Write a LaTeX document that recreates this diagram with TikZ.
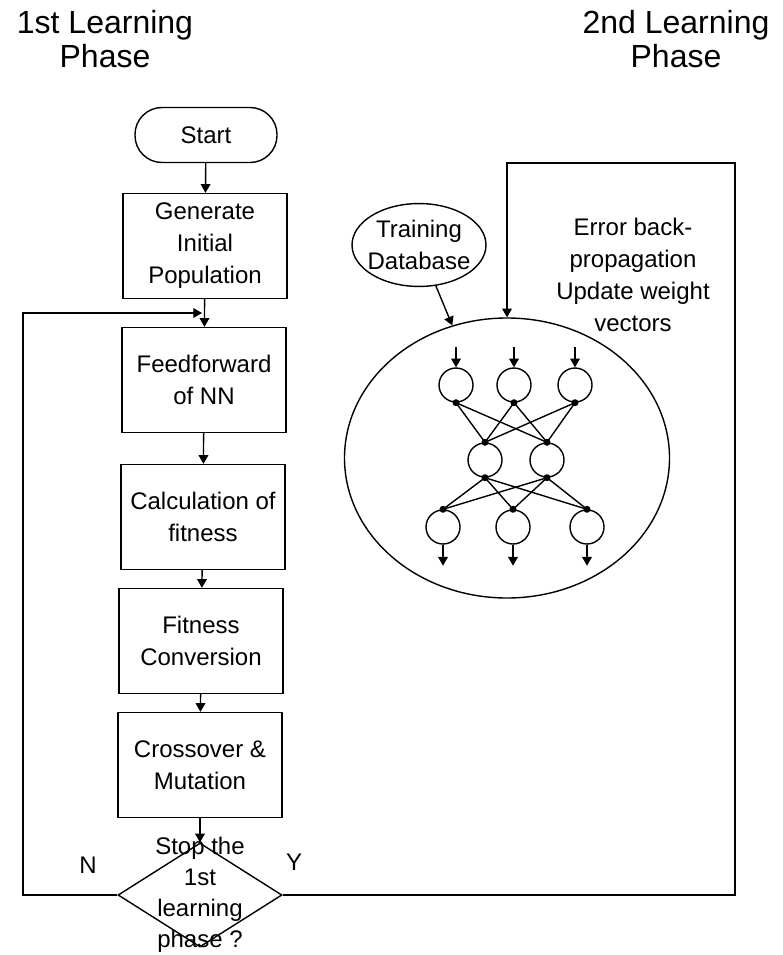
\documentclass[tikz,border=0pt]{standalone}
\usepackage{fontspec}
\setmainfont{Liberation Sans}
\usetikzlibrary{arrows}
\usetikzlibrary{shapes.geometric}

\tikzset{
  termbox/.style={draw, rectangle, rounded corners=27pt, minimum width=142pt, minimum height=55pt, inner sep=0pt},
  procbox/.style={draw, rectangle, minimum width=164pt, minimum height=105pt, align=center, inner sep=0pt},
  decbox/.style={draw, diamond, minimum width=164pt, minimum height=104pt, inner sep=0pt},
  dbshape/.style={draw, ellipse, align=center, inner xsep=-4pt, inner ysep=4.5pt},
  neuron/.style={draw, circle, minimum size=34pt, inner sep=0pt},
  headtext/.style={align=center, font=\fontsize{32}{34}\selectfont},
}

\begin{document}
\begin{tikzpicture}[x=1pt, y=-1pt, line width=1.4pt, >=triangle 60,
    font=\fontsize{24}{32}\selectfont]
 \useasboundingbox (0,0) rectangle (782,955);
 % headings
 \node [headtext] (headA) at (105,39) {1st Learning\\Phase};
 \node [headtext] (headB) at (676,39) {2nd Learning\\Phase};
 \begin {scope}
  % 1st phase: flow chart
  \node [termbox] (start) at (206,135) {Start};
  \node [procbox] (gen) at (205,246) {Generate\\Initial\\Population};
  \node [procbox] (feed) at (204,380) {Feedforward\\of NN};
  \node [procbox] (calc) at (203,517) {Calculation of\\fitness};
  \node [procbox] (conv) at (201,641) {Fitness\\Conversion};
  \node [procbox] (cross) at (200,765) {Crossover \&\\Mutation};
  \node [decbox] (dec) at (200,895) {};
  \node [align=center, font=\fontsize{24}{31}\selectfont] (dectext) at (dec.center) {Stop the\\1st\\learning\\phase ?};
  \node (nlab) at (88,865) {N};
  \node (ylab) at (294,862) {Y};
  \coordinate (nloop) at (23,313);
  \coordinate (loopin) at (202,313);
  \coordinate (yloop) at (735,163);
  \draw [->] (start) -- (gen);
  \draw [->] (gen) -- (feed);
  \draw [->] (feed) -- (calc);
  \draw [->] (calc) -- (conv);
  \draw [->] (conv) -- (cross);
  \draw [->] (cross) -- (dec);
  \draw [->] (dec.west) -| (nloop) -- (loopin);
 \end {scope}
 \begin {scope}
  % 2nd phase: neural network
  \node [draw, ellipse, minimum width=325pt, minimum height=280pt, inner sep=0pt] (nn) at (507,458) {};
  \node [dbshape] (db) at (419,245) {Training\\Database};
  \node [align=center] (bptext) at (633,275) {Error back-\\propagation\\Update weight\\vectors};
  \draw [->] (db) -- (nn);
  \draw [->] (dec.east) -| (yloop) -| (nn.north);
  \node [neuron] (in1) at (456,385) {};
  \node [neuron] (in2) at (514,385) {};
  \node [neuron] (in3) at (575,385) {};
  \node [neuron] (hid1) at (485,460) {};
  \node [neuron] (hid2) at (547,460) {};
  \node [neuron] (out1) at (443,527) {};
  \node [neuron] (out2) at (513,527) {};
  \node [neuron] (out3) at (587,527) {};
  \foreach \i in {1,2,3} {
    \draw [<-] (in\i.north) -- ++(0,-20);
    \draw [->] (out\i.south) -- ++(0,21);
    \fill (in\i.south) circle [radius=3.5pt];
    \fill (out\i.north) circle [radius=3.5pt];
    \foreach \j in {1,2} {
      \draw (in\i.south) -- (hid\j.north);
      \draw (hid\j.south) -- (out\i.north);
    }
  }
  \foreach \j in {1,2} {
    \fill (hid\j.north) circle [radius=3.5pt];
    \fill (hid\j.south) circle [radius=3.5pt];
  }
 \end {scope}
\end{tikzpicture}
\end{document}
